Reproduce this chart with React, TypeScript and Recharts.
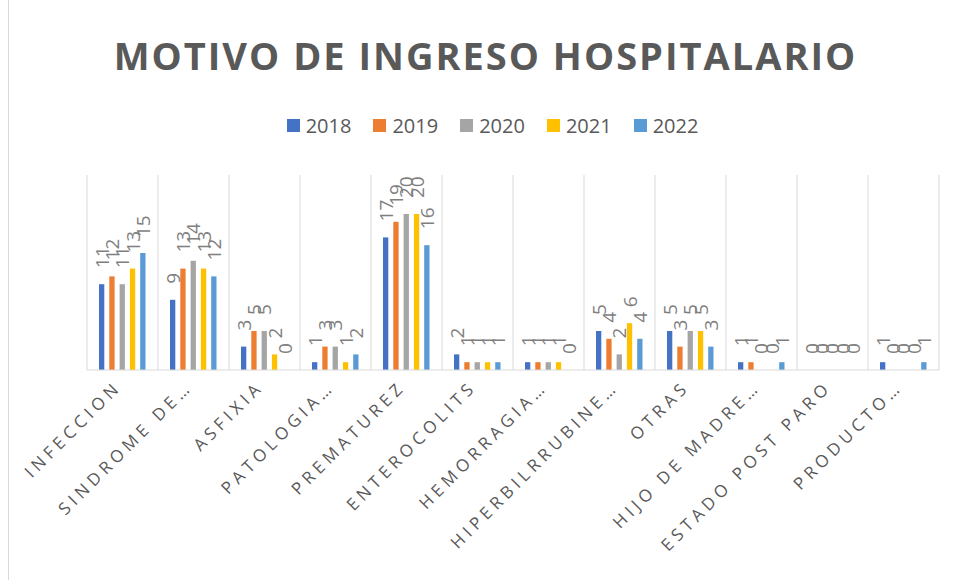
import React from "react";
import {
  BarChart,
  Bar,
  XAxis,
  YAxis,
  CartesianGrid,
  Legend,
  LabelList,
} from "recharts";

const categories = [
  "INFECCION",
  "SINDROME DE…",
  "ASFIXIA",
  "PATOLOGIA…",
  "PREMATUREZ",
  "ENTEROCOLITS",
  "HEMORRAGIA…",
  "HIPERBILRRUBINE…",
  "OTRAS",
  "HIJO DE MADRE…",
  "ESTADO POST PARO",
  "PRODUCTO…",
];

const years = ["2018", "2019", "2020", "2021", "2022"];
const colors = ["#4472C4", "#ED7D31", "#A5A5A5", "#FFC000", "#5B9BD5"];

const v2018 = [11, 9, 3, 1, 17, 2, 1, 5, 5, 1, 0, 1];
const v2019 = [12, 13, 5, 3, 19, 1, 1, 4, 3, 1, 0, 0];
const v2020 = [11, 14, 5, 3, 20, 1, 1, 2, 5, 0, 0, 0];
const v2021 = [13, 13, 2, 1, 20, 1, 1, 6, 5, 0, 0, 0];
const v2022 = [15, 12, 0, 2, 16, 1, 0, 4, 3, 1, 0, 1];

const series = [v2018, v2019, v2020, v2021, v2022];

const data = categories.map((name, i) => {
  const row: { [k: string]: number | string } = { name };
  years.forEach((y, j) => {
    row[y] = series[j][i];
  });
  return row;
});

const TEXT = "#595959";

const CategoryTick = (props: any) => {
  const { x, y, payload } = props;
  return (
    <g transform={`translate(${x},${y + 18})`}>
      <text
        x={0}
        y={0}
        textAnchor="end"
        transform="rotate(-45)"
        fill={TEXT}
        fontSize={17}
        letterSpacing={4.5}
        fontFamily="Open Sans"
      >
        {payload.value}
      </text>
    </g>
  );
};

const ValueLabel = (props: any) => {
  const { x, y, width, value } = props;
  const cx = x + width / 2;
  const ty = y - 16;
  return (
    <text
      x={cx}
      y={ty}
      transform={`rotate(-90 ${cx} ${ty})`}
      textAnchor="start"
      dominantBaseline="central"
      fill="#7f7f7f"
      fontSize={19}
      fontFamily="Open Sans"
    >
      {value}
    </text>
  );
};

// zero-height bars draw nothing, but keep their slot so the label shows
const BarShape = (props: any) => {
  const { x, y, width, height, fill, value } = props;
  const v = Array.isArray(value) ? value[1] - value[0] : value;
  if (!v) return <g />;
  return <rect x={x} y={y} width={width} height={height} fill={fill} />;
};

const LegendContent = (props: any) => {
  const { payload } = props;
  return (
    <div
      style={{
        height: 30,
        display: "flex",
        justifyContent: "center",
        alignItems: "center",
        fontFamily: "Open Sans",
        fontSize: 20,
        color: TEXT,
      }}
    >
      {(payload || []).map((p: any) => (
        <div
          key={p.value}
          style={{ display: "flex", alignItems: "center", margin: "0 11px" }}
        >
          <span
            style={{
              width: 13,
              height: 13,
              background: p.color,
              display: "inline-block",
              marginRight: 6,
            }}
          />
          <span>{p.value}</span>
        </div>
      ))}
    </div>
  );
};

export default function App() {
  return (
    <div
      style={{
        position: "absolute",
        left: 0,
        top: 0,
        width: 955,
        height: 580,
        background: "#fff",
        overflow: "hidden",
      }}
    >
      <div
        style={{
          position: "absolute",
          left: 8,
          top: 0,
          width: 1,
          height: 580,
          background: "#d9d9d9",
        }}
      />
      <div
        style={{
          position: "absolute",
          left: 8,
          top: 29,
          width: 955,
          textAlign: "center",
          fontFamily: "Open Sans",
          fontWeight: 700,
          fontSize: 38,
          letterSpacing: 2,
          color: TEXT,
        }}
      >
        MOTIVO DE INGRESO HOSPITALARIO
      </div>
      <BarChart
        width={955}
        height={580}
        data={data}
        margin={{ top: 145, right: 16, bottom: 60, left: 87 }}
        barSize={5.3}
        barGap={5}
      >
        <CartesianGrid
          horizontal={false}
          stroke="#d9d9d9"
          verticalCoordinatesGenerator={({ offset }: any) =>
            Array.from(
              { length: categories.length + 1 },
              (_, i) => offset.left + (i * offset.width) / categories.length
            )
          }
        />
        <XAxis
          dataKey="name"
          interval={0}
          height={150}
          tickLine={false}
          tickSize={0}
          tickMargin={0}
          axisLine={{ stroke: "#d9d9d9" }}
          tick={<CategoryTick />}
        />
        <YAxis hide domain={[0, 25]} />
        <Legend
          verticalAlign="top"
          content={<LegendContent />}
          wrapperStyle={{ top: 110, left: 15, width: 955 }}
        />
        {years.map((y, j) => (
          <Bar
            key={y}
            dataKey={y}
            fill={colors[j]}
            minPointSize={0.01}
            shape={<BarShape />}
            isAnimationActive={false}
          >
            <LabelList dataKey={y} content={<ValueLabel />} />
          </Bar>
        ))}
      </BarChart>
    </div>
  );
}
